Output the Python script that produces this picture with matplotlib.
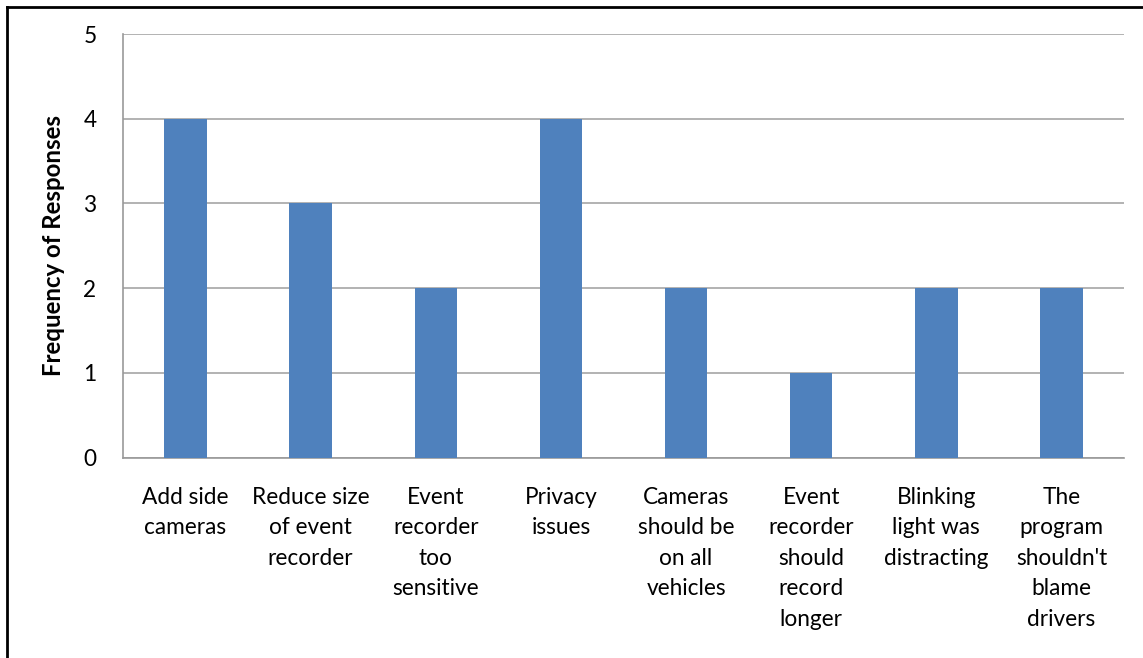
import matplotlib.pyplot as plt
from matplotlib.lines import Line2D

plt.rcParams['font.family'] = ['Lato', 'DejaVu Sans']

categories = [
    "Add side\ncameras",
    "Reduce size\nof event\nrecorder",
    "Event\nrecorder\ntoo\nsensitive",
    "Privacy\nissues",
    "Cameras\nshould be\non all\nvehicles",
    "Event\nrecorder\nshould\nrecord\nlonger",
    "Blinking\nlight was\ndistracting",
    "The\nprogram\nshouldn't\nblame\ndrivers",
]
responses = [4, 3, 2, 4, 2, 1, 2, 2]
y_ticks = [0, 1, 2, 3, 4, 5]

fig = plt.figure(figsize=(11.43, 6.58), dpi=100)
ax = fig.add_axes([0.1076, 0.3047, 0.8758, 0.6436])

x = range(len(categories))
ax.bar(x, responses, width=0.34, color="#4F81BD", zorder=3)

ax.set_xlim(-0.5, len(categories) - 0.5)
ax.set_ylim(0, 5)
ax.set_yticks(y_ticks)
ax.set_xticks(list(x))
ax.set_xticklabels(categories, fontsize=16.3, linespacing=1.56, va="top", color="black")
ax.tick_params(axis="x", length=0, pad=21)
ax.tick_params(axis="y", length=0, pad=19, labelsize=16.3, labelcolor="black")
ax.yaxis.grid(True, color="#A6A6A6", linewidth=1.2, zorder=0)

for side in ("top", "right"):
    ax.spines[side].set_visible(False)
for side in ("left", "bottom"):
    ax.spines[side].set_color("#999999")
    ax.spines[side].set_linewidth(1.2)

ax.set_ylabel("Frequency of Responses", fontsize=17.3, fontweight="bold", labelpad=13)

# outer frame, only left and top edges fall inside the image
fig.add_artist(Line2D([0.0063, 0.0063], [0, 0.9894], transform=fig.transFigure,
                      color="black", linewidth=2))
fig.add_artist(Line2D([0.0063, 1.0], [0.9894, 0.9894], transform=fig.transFigure,
                      color="black", linewidth=2))

fig.savefig("out.png", dpi=100)
